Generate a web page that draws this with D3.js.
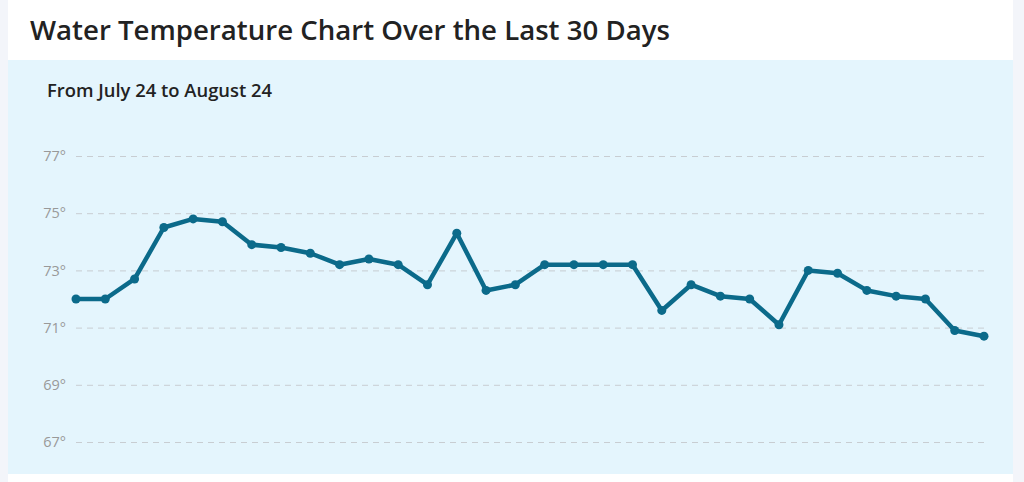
<!DOCTYPE html>
<html>
<head>
<meta charset="utf-8">
<script src="https://cdn.jsdelivr.net/npm/d3@7"></script>
<style>
  body { margin: 0; background: #f3f5fa; }
  svg { display: block; font-family: "Open Sans", "Noto Sans", sans-serif; }
</style>
</head>
<body>
<div id="chart"></div>
<script>
// chart data
var titleText = "Water Temperature Chart Over the Last 30 Days";
var subtitleText = "From July 24 to August 24";
var dayIndex = d3.range(32);
var temps = [72.0, 72.0, 72.7, 74.5, 74.8, 74.7, 73.9, 73.8, 73.6, 73.2, 73.4, 73.2, 72.5, 74.3, 72.3, 72.5,
             73.2, 73.2, 73.2, 73.2, 71.6, 72.5, 72.1, 72.0, 71.1, 73.0, 72.9, 72.3, 72.1, 72.0, 70.9, 70.7];
var yTicks = [67, 69, 71, 73, 75, 77];

var svgWidth = 1024;
var svgHeight = 482;

var svg = d3.select("#chart")
  .append("svg")
  .attr("width", svgWidth)
  .attr("height", svgHeight);

// white card + light blue panel
svg.append("rect")
  .attr("x", 8).attr("y", 0)
  .attr("width", 1005).attr("height", svgHeight)
  .attr("fill", "#ffffff");

svg.append("rect")
  .attr("x", 8).attr("y", 60)
  .attr("width", 1005).attr("height", 414)
  .attr("fill", "#e4f5fd");

// titles
svg.append("text")
  .attr("x", 30).attr("y", 40)
  .attr("font-size", 27.6)
  .attr("font-weight", 600)
  .attr("fill", "#222")
  .text(titleText);

svg.append("text")
  .attr("x", 47).attr("y", 97)
  .attr("font-size", 18.4)
  .attr("font-weight", 600)
  .attr("fill", "#222")
  .text(subtitleText);

// scales
var x = d3.scaleLinear()
  .domain([0, dayIndex.length - 1])
  .range([76, 984]);

var y = d3.scaleLinear()
  .domain([67, 77])
  .range([442, 156]);

// y axis with dashed grid
var yAxis = d3.axisLeft(y)
  .tickValues(yTicks)
  .tickSize(-(984 - 76))
  .tickPadding(10)
  .tickFormat(d => d + "°");

var axisG = svg.append("g")
  .attr("transform", "translate(76,0)")
  .call(yAxis);

axisG.select(".domain").remove();
axisG.selectAll(".tick line")
  .attr("stroke", "#c8cdd2")
  .attr("stroke-dasharray", "6,5");
axisG.selectAll(".tick text")
  .attr("fill", "#999")
  .attr("font-size", 14.5)
  .attr("font-family", "\"Open Sans\", sans-serif");

// line
var line = d3.line()
  .x((d, i) => x(i))
  .y(d => y(d));

svg.append("path")
  .datum(temps)
  .attr("fill", "none")
  .attr("stroke", "#0b6a8a")
  .attr("stroke-width", 4.5)
  .attr("stroke-linejoin", "round")
  .attr("d", line);

svg.selectAll("circle.pt")
  .data(temps)
  .enter()
  .append("circle")
  .attr("class", "pt")
  .attr("cx", (d, i) => x(i))
  .attr("cy", d => y(d))
  .attr("r", 4.5)
  .attr("fill", "#0b6a8a");
</script>
</body>
</html>
